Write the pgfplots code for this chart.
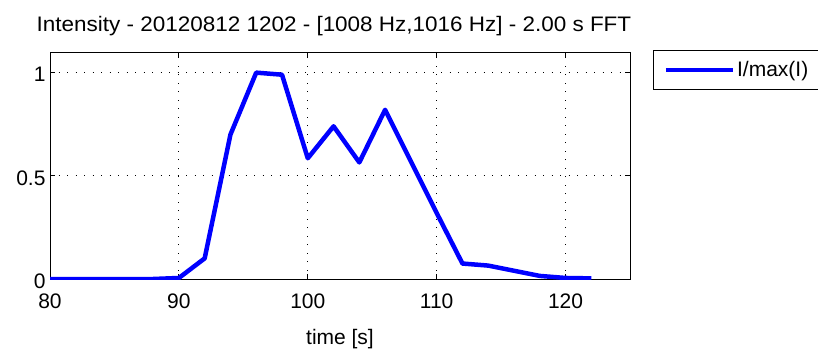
\documentclass[border=0pt]{standalone}
\usepackage{fontspec}
\setmainfont{Liberation Sans}
\newfontfamily\titlefont{Liberation Sans}[FakeStretch=1.07]
\usepackage{pgfplots}
\pgfplotsset{compat=1.18}

% normalised intensity, sampled every 2 s
\pgfplotstableread{
t    I
80   0.000
82   0.000
84   0.000
86   0.000
88   0.000
90   0.005
92   0.100
94   0.700
96   1.000
98   0.990
100  0.585
102  0.740
104  0.565
106  0.820
108  0.570
110  0.320
112  0.075
114  0.065
116  0.040
118  0.015
120  0.005
122  0.003
}\intensity

\begin{document}
\begin{tikzpicture}
\useasboundingbox (0pt,0pt) rectangle (818pt,349pt);
\begin{axis}[
  at={(50pt,70pt)}, anchor=south west,
  scale only axis, width=580pt, height=227pt,
  xmin=80, xmax=125, ymin=0, ymax=1.1,
  xtick={80,90,...,120}, ytick={0,0.5,1},
  yticklabels={0,0.5,1},
  tick align=inside, major tick length=5pt,
  xtick pos=both, ytick pos=both,
  grid=major,
  major grid style={black, line width=0.9pt, dash pattern=on 1pt off 7.5pt},
  axis line style={black, line width=0.9pt},
  every tick/.style={black, line width=0.9pt},
  /pgf/number format/assume math mode=true,
  tick label style={font=\fontsize{21}{23}\selectfont},
  xticklabel style={yshift=-11pt},
  yticklabel style={xshift=-1pt, yshift=-2pt},
  xlabel={time [s]},
  xlabel style={font=\fontsize{21}{23}\selectfont, yshift=-14pt},
  title={Intensity - 20120812 1202 - [1008 Hz,1016 Hz] - 2.00 s FFT},
  title style={font=\titlefont\fontsize{21}{23}\selectfont, yshift=7pt, xshift=-6pt},
  legend style={
    at={(1.04,1.009)}, anchor=north west,
    draw=black, line width=0.9pt,
    font=\fontsize{21}{23}\selectfont,
    inner xsep=10pt, inner ysep=9pt,
  },
  legend cell align=left,
  legend image code/.code={\draw[#1, line width=4.5pt] (0pt,0pt) -- (67pt,0pt);},
]
\addplot[color={rgb,1:red,0;green,0;blue,1}, line width=4.5pt, line join=round]
  table[x=t, y=I]{\intensity};
\addlegendentry{I/max(I)}
\end{axis}
\end{tikzpicture}
\end{document}
